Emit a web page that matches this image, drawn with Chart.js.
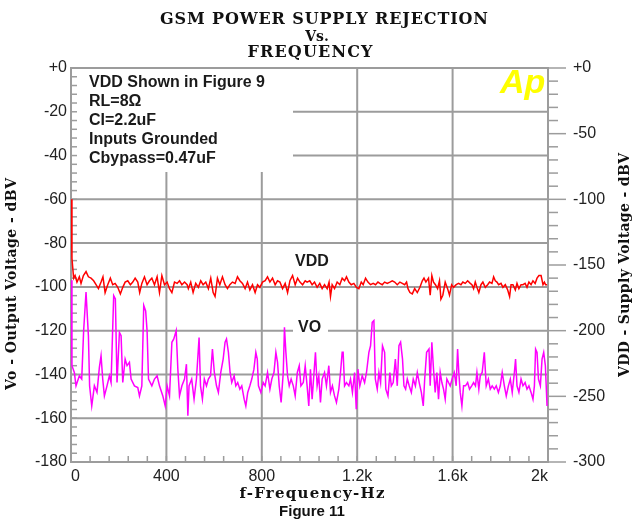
<!DOCTYPE html>
<html>
<head>
<meta charset="utf-8">
<script src="https://cdn.jsdelivr.net/npm/chart.js@4.4.0/dist/chart.umd.min.js"></script>
<style>
  body { margin: 0; background: #fff; }
  canvas { display: block; }
</style>
</head>
<body>
<canvas id="psrr" width="634" height="525"></canvas>
<script>
// ---- values ----
// VO, left axis (dBV)
const voHz = [
    0, 4, 14, 21, 35, 45, 53, 63, 73, 78,
    87, 98, 109, 119, 126, 133, 140, 151, 161, 168,
    179, 186, 193, 203, 210, 217, 227, 235, 245, 252,
    266, 280, 287, 297, 305, 313, 319, 325, 339, 350,
    361, 371, 385, 395, 403, 413, 423, 431, 441, 448,
    455, 465, 476, 484, 490, 495, 506, 516, 526, 537,
    543, 551, 559, 568, 576, 585, 593, 601, 610, 618,
    628, 638, 646, 652, 660, 667, 674, 684, 691, 699,
    708, 716, 726, 733, 741, 750, 758, 767, 775, 781,
    786, 796, 806, 814, 824, 834, 842, 851, 859, 866,
    873, 881, 890, 895, 901, 908, 915, 923, 932, 940,
    949, 957, 964, 974, 982, 990, 997, 1004, 1011, 1018,
    1025, 1032, 1039, 1046, 1053, 1063, 1071, 1081, 1088, 1096,
    1105, 1113, 1123, 1130, 1137, 1141, 1147, 1155, 1165, 1172,
    1180, 1189, 1196, 1203, 1211, 1221, 1231, 1239, 1249, 1256,
    1263, 1270, 1276, 1284, 1291, 1298, 1306, 1315, 1320, 1329,
    1337, 1343, 1351, 1360, 1368, 1375, 1382, 1390, 1396, 1403,
    1410, 1418, 1427, 1435, 1444, 1452, 1460, 1469, 1477, 1483,
    1491, 1501, 1506, 1513, 1520, 1527, 1534, 1541, 1548, 1555,
    1562, 1569, 1576, 1583, 1590, 1598, 1607, 1615, 1621, 1626,
    1632, 1639, 1646, 1654, 1663, 1671, 1680, 1688, 1696, 1702,
    1710, 1716, 1724, 1733, 1741, 1750, 1758, 1766, 1775, 1783,
    1792, 1800, 1808, 1817, 1825, 1834, 1842, 1850, 1859, 1864,
    1870, 1878, 1887, 1895, 1904, 1912, 1920, 1929, 1937, 1943,
    1948, 1954, 1960, 1968, 1975, 1982, 1989, 1996
];
const voDb = [
    -97, -136, -139.1, -145.2, -140.6, -142.1, -120, -102.4, -122.3, -145.2,
    -154.4, -145.2, -148.2, -136.8, -131.5, -142.1, -149.8, -145.2, -140.6, -143.7,
    -104, -105.5, -143.7, -120.8, -122.3, -143.7, -133, -136, -134.5, -142.1,
    -145.2, -146, -149.8, -145.2, -108.5, -111, -120, -142.1, -145.2, -142.1,
    -140.6, -145.2, -149.8, -154.4, -145.2, -149.8, -125.3, -123.8, -120, -137.6,
    -149.8, -145.2, -142.1, -135.3, -158.9, -145.2, -142.1, -151.3, -142.1, -123.1,
    -145.2, -151.3, -142.1, -145.2, -142.1, -140.6, -128.4, -139.1, -145.2, -148.2,
    -139.1, -133, -125.3, -123.8, -129.9, -139.1, -143.7, -140.6, -145.2, -143.7,
    -146.7, -145.2, -151.3, -154.4, -148.2, -145.2, -142.1, -137.6, -129.9, -133,
    -145.2, -148.2, -143.7, -145.2, -139.1, -146.7, -142.1, -139.1, -129.9, -134.5,
    -145.2, -152.8, -139.1, -118.5, -129.9, -140.6, -145.2, -142.1, -145.2, -149.8,
    -139.1, -136, -145.2, -143.7, -136, -145.2, -154.4, -137.6, -151.3, -140.6,
    -129.9, -145.2, -140.6, -152.8, -142.1, -139.1, -145.2, -136, -148.2, -145.2,
    -149.8, -152.8, -146.7, -139.1, -129.9, -129.9, -145.2, -143.7, -145.2, -142.1,
    -148.2, -139.1, -155.9, -137.6, -145.2, -140.6, -143.7, -139.1, -129.9, -126.9,
    -116.2, -115.4, -142.1, -146.7, -139.1, -143.7, -126.9, -129.9, -146.7, -149.8,
    -139.1, -145.2, -143.7, -133, -145.2, -126.9, -125.3, -133, -145.2, -146.7,
    -142.1, -145.2, -148.2, -142.1, -145.2, -139.1, -143.7, -148.2, -154.4, -142.1,
    -129.9, -128.4, -145.2, -125.3, -137.6, -148.2, -139.1, -151.3, -139.1, -143.7,
    -146.7, -151.3, -142.1, -143.7, -145.2, -142.1, -139.1, -145.2, -128.4, -139.1,
    -148.2, -154.4, -145.2, -145.2, -143.7, -146.7, -145.2, -143.7, -145.2, -139.1,
    -146.7, -140.6, -139.1, -129.9, -145.2, -142.1, -146.7, -145.2, -146.7, -145.2,
    -148.2, -145.2, -139.1, -145.2, -149.8, -145.2, -142.1, -148.2, -139.1, -133,
    -145.2, -148.2, -142.1, -145.2, -143.7, -146.7, -145.2, -148.2, -151.3, -145.2,
    -128.4, -129.9, -142.1, -145.2, -133, -129.9, -136, -154.4
];

// VDD, right axis (dBV)
const vddHz = [
    0, 4, 11, 17, 25, 35, 42, 52, 63, 73,
    84, 95, 105, 115, 126, 134, 143, 154, 165, 175,
    185, 196, 207, 217, 227, 238, 249, 259, 269, 280,
    288, 297, 308, 319, 329, 339, 350, 361, 371, 381,
    392, 403, 413, 423, 434, 445, 455, 465, 476, 487,
    492, 502, 512, 523, 534, 544, 554, 565, 576, 586,
    596, 604, 614, 624, 635, 646, 656, 666, 677, 688,
    698, 708, 719, 730, 740, 750, 761, 772, 782, 792,
    803, 814, 824, 834, 845, 856, 866, 876, 887, 898,
    908, 918, 929, 940, 950, 960, 971, 982,
    990, 1001, 1011, 1021, 1032, 1043, 1053, 1063, 1074, 1082,
    1088, 1095, 1105, 1116, 1127, 1137, 1147, 1155, 1165, 1175,
    1186, 1197, 1207, 1217, 1225, 1235, 1245, 1256, 1267, 1277,
    1287, 1295, 1305, 1315, 1326, 1337, 1347, 1357, 1368, 1379,
    1389, 1399, 1407, 1413, 1421, 1431, 1441, 1452, 1463, 1473,
    1480, 1488,
    1499, 1506, 1513, 1520, 1528, 1537, 1545, 1551, 1559, 1569,
    1579, 1587, 1596, 1604, 1615, 1625, 1635, 1643, 1653, 1663,
    1674, 1681, 1688, 1695, 1702, 1710, 1719, 1727, 1737, 1747,
    1755, 1765, 1772, 1779, 1786, 1793, 1803, 1811, 1821, 1831,
    1839, 1845, 1853, 1863, 1870, 1878, 1887, 1895, 1904, 1912,
    1920, 1929, 1937, 1946, 1954, 1962, 1971, 1979, 1985, 1990,
    1996
];
const vddDb = [
    -100, -145, -160, -158, -163, -159, -164, -158, -155, -159,
    -160, -162, -165, -168, -163, -159, -171, -165, -160, -165,
    -164, -167, -172, -167, -163, -162, -165, -163, -160, -163,
    -171, -164, -159, -165, -162, -160, -165, -159, -171, -158,
    -165, -163, -168, -171, -163, -164, -162, -165, -163, -165,
    -168, -163, -171, -164, -167, -162, -165, -163, -168, -160,
    -171, -174, -160, -165, -159, -165, -168, -165, -163, -164,
    -159, -162, -164, -168, -163, -169, -165, -171, -165, -167,
    -163, -162, -159, -163, -160, -165, -162, -163, -168, -164,
    -171, -162, -158, -165, -160, -163, -165, -162,
    -163, -162, -165, -163, -167, -164, -168, -165, -168, -163,
    -174, -165, -168, -163, -165, -160, -162, -159, -163, -165,
    -164, -167, -168, -163, -165, -160, -163, -165, -164, -165,
    -163, -164, -165, -163, -164, -163, -162, -163, -165, -163,
    -164, -165, -163, -168, -171, -172, -168, -171, -167, -162,
    -160, -163,
    -160, -173, -158, -163, -165, -168, -162, -176, -173, -163,
    -168, -173, -165, -167, -165, -164, -165, -163, -164, -162,
    -164, -165, -168, -163, -167, -171, -165, -163, -167, -165,
    -163, -164, -159, -162, -163, -165, -164, -167, -165, -169,
    -174, -165, -165, -169, -164, -168, -165, -165, -164, -167,
    -163, -165, -162, -164, -160, -158, -158, -165, -163, -165,
    -165
];

const xTicks = [0, 400, 800, 1200, 1600, 2000];
const xTickLabels = ["0", "400", "800", "1.2k", "1.6k", "2k"];
const yTicks = [0, -20, -40, -60, -80, -100, -120, -140, -160, -180];
const yTickLabels = ["+0", "-20", "-40", "-60", "-80", "-100", "-120", "-140", "-160", "-180"];
const y1Ticks = [0, -50, -100, -150, -200, -250, -300];
const y1TickLabels = ["+0", "-50", "-100", "-150", "-200", "-250", "-300"];

const titleLines = ["GSM POWER SUPPLY REJECTION", "Vs.", "FREQUENCY"];
const noteLines = ["VDD Shown in Figure 9", "RL=8Ω", "CI=2.2uF", "Inputs Grounded", "Cbypass=0.47uF"];

const SERIF = '"DejaVu Serif", serif';
const SANS = '"Liberation Sans", Arial, sans-serif';
const GRID = "#9c9c9c";

// draw text spread to a given width (letter spacing)
function fitText(ctx, text, cx, cy, width) {
    ctx.letterSpacing = "0px";
    const w = ctx.measureText(text).width;
    const sp = text.length > 1 ? (width - w) / (text.length - 1) : 0;
    ctx.letterSpacing = sp + "px";
    ctx.textAlign = "left";
    ctx.fillText(text, cx - width / 2, cy);
    ctx.letterSpacing = "0px";
}

function line(ctx, x1, y1, x2, y2) {
    ctx.beginPath();
    ctx.moveTo(x1, y1);
    ctx.lineTo(x2, y2);
    ctx.stroke();
}

const boxRight = 293, boxBottom = 172;

const framePlugin = {
    id: "frame",
    beforeDraw(chart) {
        const ctx = chart.ctx;
        ctx.save();
        ctx.fillStyle = "#fff";
        ctx.fillRect(0, 0, chart.width, chart.height);
        ctx.restore();
    },
    beforeDatasetsDraw(chart) {
        const ctx = chart.ctx;
        const a = chart.chartArea;
        const sx = chart.scales.x, sy = chart.scales.y, sy1 = chart.scales.y1;
        ctx.save();
        ctx.strokeStyle = GRID;
        ctx.lineWidth = 2;
        // grid (the note box hides the upper-left part)
        xTicks.slice(1, -1).forEach(v => {
            const px = sx.getPixelForValue(v);
            line(ctx, px, px < boxRight ? boxBottom : a.top, px, a.bottom);
        });
        yTicks.slice(1, -1).forEach(v => {
            const py = sy.getPixelForValue(v);
            line(ctx, py < boxBottom ? boxRight : a.left, py, a.right, py);
        });
        ctx.strokeRect(a.left, a.top, a.right - a.left, a.bottom - a.top);

        // small ticks
        ctx.lineWidth = 1.5;
        for (let v = 0; v >= -180; v -= 4) {
            const py = sy.getPixelForValue(v);
            line(ctx, a.left, py, a.left + 6, py);
        }
        for (let v = 0; v >= -300; v -= 10) {
            const py = sy1.getPixelForValue(v);
            line(ctx, a.right, py, a.right + (v % 50 === 0 ? 18 : 10), py);
        }
        for (let v = 0; v <= 2000; v += 80) {
            const px = sx.getPixelForValue(v);
            line(ctx, px, a.bottom, px, a.bottom - 6);
        }
        ctx.restore();
    },
    afterDatasetsDraw(chart) {
        const ctx = chart.ctx;
        ctx.save();
        ctx.fillStyle = "#1a1a1a";
        ctx.textBaseline = "middle";
        ctx.font = "bold 16px " + SANS;
        noteLines.forEach((t, i) => {
            ctx.fillText(t, 89, 83 + i * 18.8);
        });

        // curve labels
        ctx.fillStyle = "#fff";
        ctx.fillRect(293, 318, 35, 20);
        ctx.fillStyle = "#1a1a1a";
        ctx.fillText("VDD", 295, 262);
        ctx.fillText("VO", 298, 328);

        // Ap logo
        ctx.font = "italic bold 34px " + SANS;
        ctx.textBaseline = "alphabetic";
        ctx.fillStyle = "#ffff00";
        ctx.fillText("Ap", 500, 93);
        ctx.restore();
    },
    afterDraw(chart) {
        const ctx = chart.ctx;
        ctx.save();
        ctx.fillStyle = "#111";
        ctx.textBaseline = "middle";
        ctx.font = "bold 16px " + SERIF;
        fitText(ctx, titleLines[0], 324, 20, 328);
        ctx.textAlign = "center";
        ctx.font = "bold 14px " + SERIF;
        ctx.fillText(titleLines[1], 317, 37);
        ctx.font = "bold 16px " + SERIF;
        fitText(ctx, titleLines[2], 310, 53, 125);

        ctx.font = "bold 15px " + SERIF;
        fitText(ctx, "f-Frequency-Hz", 312, 494, 145);

        ctx.font = "bold 14px " + SERIF;
        ctx.save();
        ctx.translate(12, 284);
        ctx.rotate(-Math.PI / 2);
        fitText(ctx, "Vo - Output Voltage - dBV", 0, 0, 212);
        ctx.restore();

        ctx.save();
        ctx.translate(625, 265);
        ctx.rotate(-Math.PI / 2);
        fitText(ctx, "VDD - Supply Voltage - dBV", 0, 0, 224);
        ctx.restore();

        ctx.font = "bold 15px " + SANS;
        ctx.textAlign = "center";
        ctx.fillText("Figure 11", 312, 512);
        ctx.restore();
    }
};

const tickFont = { family: SANS, size: 16 };

new Chart(document.getElementById("psrr"), {
    type: "line",
    data: {
        datasets: [
            {
                label: "VDD",
                data: vddHz.map((f, i) => ({ x: f, y: vddDb[i] })),
                yAxisID: "y1",
                borderColor: "#ff0000",
                borderWidth: 1.5,
                pointRadius: 0,
                tension: 0
            },
            {
                label: "VO",
                data: voHz.map((f, i) => ({ x: f, y: voDb[i] })),
                yAxisID: "y",
                borderColor: "#ff00ff",
                borderWidth: 1.5,
                pointRadius: 0,
                tension: 0
            }
        ]
    },
    options: {
        responsive: false,
        animation: false,
        devicePixelRatio: 1,
        layout: { padding: { top: 68, left: 0, right: 0, bottom: 0 } },
        plugins: {
            legend: { display: false },
            title: { display: false },
            tooltip: { enabled: false }
        },
        scales: {
            x: {
                type: "linear",
                min: 0,
                max: 2000,
                afterBuildTicks: s => { s.ticks = xTicks.map(v => ({ value: v })); },
                afterFit: s => { s.height = 63; },
                grid: { display: false, drawTicks: false },
                border: { display: false },
                ticks: {
                    align: "inner",
                    padding: 5,
                    maxRotation: 0,
                    autoSkip: false,
                    color: "#222",
                    font: tickFont,
                    callback: v => xTickLabels[xTicks.indexOf(v)]
                }
            },
            y: {
                position: "left",
                min: -180,
                max: 0,
                afterBuildTicks: s => { s.ticks = yTicks.map(v => ({ value: v })); },
                afterFit: s => { s.width = 71; },
                grid: { display: false, drawTicks: false },
                border: { display: false },
                ticks: {
                    padding: 4,
                    autoSkip: false,
                    color: "#222",
                    font: tickFont,
                    callback: v => yTickLabels[yTicks.indexOf(v)]
                }
            },
            y1: {
                position: "right",
                min: -300,
                max: 0,
                afterBuildTicks: s => { s.ticks = y1Ticks.map(v => ({ value: v })); },
                afterFit: s => { s.width = 86; },
                grid: { display: false, drawTicks: false },
                border: { display: false },
                ticks: {
                    padding: 25,
                    autoSkip: false,
                    color: "#222",
                    font: tickFont,
                    callback: v => y1TickLabels[y1Ticks.indexOf(v)]
                }
            }
        }
    },
    plugins: [framePlugin]
});
</script>
</body>
</html>
